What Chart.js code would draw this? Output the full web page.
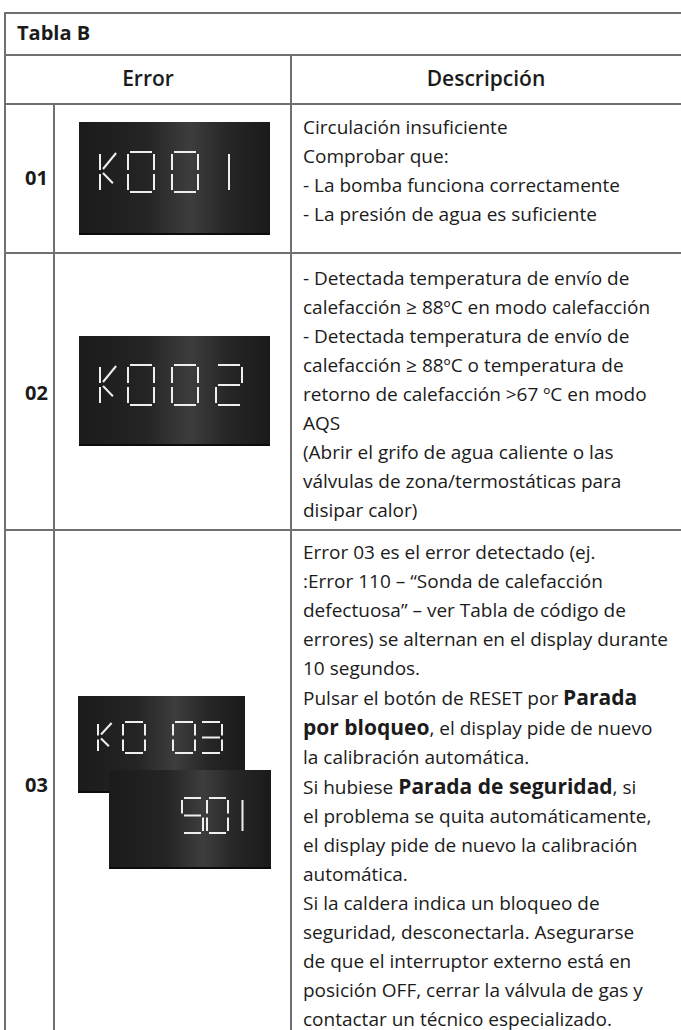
<!DOCTYPE html>
<html>
<head>
<meta charset="utf-8">
<script src="https://cdn.jsdelivr.net/npm/chart.js@4"></script>
<style>
  html, body { margin: 0; padding: 0; background: #fff; }
  body { width: 681px; height: 1030px; position: relative; overflow: hidden;
         font-family: 'Open Sans', 'Noto Sans', sans-serif; color: #1b1b1b; }
  .hl { position: absolute; height: 2px; background: #707070; }
  .vl { position: absolute; width: 2px; background: #707070; }
  .t { position: absolute; white-space: nowrap; }
  .desc { position: absolute; left: 303px; font-size: 19px; line-height: 29px; white-space: nowrap; }
  .desc b { font-weight: 700; font-size: 21px; }
  .desc .m { font-weight: 500; }
  canvas { position: absolute; }
</style>
</head>
<body>
<!-- rejilla de la tabla -->
<div class="hl" style="left:5px; top:12px; width:676px"></div>
<div class="hl" style="left:5px; top:54px; width:676px"></div>
<div class="hl" style="left:5px; top:103px; width:676px"></div>
<div class="hl" style="left:5px; top:252px; width:676px"></div>
<div class="hl" style="left:5px; top:529px; width:676px"></div>
<div class="vl" style="left:4px; top:12px; height:1018px"></div>
<div class="vl" style="left:290px; top:54px; height:976px"></div>
<div class="vl" style="left:53px; top:103px; height:927px"></div>

<div class="t" style="left:17px; top:19px; font-size:20px; font-weight:700;">Tabla B</div>
<div class="t" style="left:5px; width:286px; text-align:center; top:64px; font-size:21px; font-weight:600;">Error</div>
<div class="t" style="left:291px; width:390px; text-align:center; top:64px; font-size:21px; font-weight:600;">Descripción</div>

<div id="nums"></div>
<div id="descs"></div>

<canvas id="d1" width="191" height="113" style="left:79px; top:122px"></canvas>
<canvas id="d2" width="191" height="110" style="left:79px; top:336px"></canvas>
<canvas id="d3" width="167" height="97" style="left:78px; top:696px"></canvas>
<canvas id="d4" width="162" height="99" style="left:109px; top:770px"></canvas>

<script>
// Datos de la tabla
const errorNums = ['01', '02', '03'];
const displayCodes = ['K0 01', 'K0 02', 'K0 03'];
const resetCode = 'S01';

const desc01 = [
  'Circulación insuficiente',
  'Comprobar que:',
  '- La bomba funciona correctamente',
  '- La presión de agua es suficiente'
];
const desc02 = [
  '- Detectada temperatura de envío de',
  'calefacción ≥ 88ºC en modo calefacción',
  '- Detectada temperatura de envío de',
  'calefacción ≥ 88ºC o temperatura de',
  'retorno de calefacción >67 ºC en modo',
  'AQS',
  '(Abrir el grifo de agua caliente o las',
  'válvulas de zona/termostáticas para',
  'disipar calor)'
];
// *texto* = negrita, _texto_ = semi negrita
const desc03 = [
  '_Error 03_ es el error detectado (ej.',
  ':Error 110 – “Sonda de calefacción',
  'defectuosa” – ver Tabla de código de',
  'errores) se alternan en el display durante',
  '10 segundos.',
  'Pulsar el botón de RESET por *Parada*',
  '*por bloqueo*, el display pide de nuevo',
  'la calibración automática.',
  'Si hubiese *Parada de seguridad*, si',
  'el problema se quita automáticamente,',
  'el display pide de nuevo la calibración',
  'automática.',
  '_Si la caldera indica un bloqueo de_',
  '_seguridad, desconectarla. Asegurarse_',
  '_de que el interruptor externo está en_',
  '_posición OFF, cerrar la válvula de gas y_',
  '_contactar un técnico especializado._'
];

const numTops = [164, 379, 771];
const descTops = [113, 264, 538];

function fmt(s) {
  return s.replace(/&/g, '&amp;').replace(/</g, '&lt;').replace(/>/g, '&gt;')
    .replace(/\*([^*]+)\*/g, '<b>$1</b>')
    .replace(/_([^_]+)_/g, '<span class="m">$1</span>');
}

const numsEl = document.getElementById('nums');
errorNums.forEach((n, i) => {
  const d = document.createElement('div');
  d.className = 't';
  d.style.cssText = 'left:25px; top:' + numTops[i] + 'px; font-size:20px; font-weight:700;';
  d.textContent = n;
  numsEl.appendChild(d);
});
const descEl = document.getElementById('descs');
[desc01, desc02, desc03].forEach((lines, i) => {
  const d = document.createElement('div');
  d.className = 'desc';
  d.style.top = descTops[i] + 'px';
  d.innerHTML = lines.map(fmt).join('<br>');
  descEl.appendChild(d);
});

// segmentos de un display de 7 segmentos
const glyphs = {
  '0': 'abcdef', '1': 'm', '2': 'abged', '3': 'abgcd', 'S': 'afgcd', 'K': 'fekl'
};

function segsFor(ch, x, y, w, h) {
  const g = 2, m = y + h / 2;
  const all = {
    a: [[x + g, y], [x + w - g, y]],
    b: [[x + w, y + g], [x + w, m - g]],
    c: [[x + w, m + g], [x + w, y + h - g]],
    d: [[x + g, y + h], [x + w - g, y + h]],
    e: [[x, m + g], [x, y + h - g]],
    f: [[x, y + g], [x, m - g]],
    g: [[x + g, m], [x + w - g, m]],
    m: [[x + w / 2, y + g], [x + w / 2, y + h - g]],
    k: [[x + 3, m - 3], [x + w, y + 1]],
    l: [[x + 3, m + 1], [x + w * 0.8, y + h * 0.78]]
  };
  return (glyphs[ch] || '').split('').map(k => all[k]);
}

const bgPlugin = {
  id: 'lcdBg',
  beforeDraw(chart) {
    const { ctx, width, height } = chart;
    const gr = ctx.createLinearGradient(0, 0, width, 0);
    gr.addColorStop(0, '#1b1b1b');
    gr.addColorStop(0.35, '#242424');
    gr.addColorStop(0.58, '#3d3d3d');
    gr.addColorStop(0.78, '#262626');
    gr.addColorStop(1, '#1a1a1a');
    ctx.save();
    ctx.fillStyle = gr;
    ctx.fillRect(0, 0, width, height);
    ctx.fillStyle = '#0c0c0c';
    ctx.fillRect(0, height - 2, width, 2);
    ctx.restore();
  }
};

function display(id, code, lay) {
  const cv = document.getElementById(id);
  const W = cv.width, H = cv.height;
  const segs = [];
  let x = lay.x;
  for (const ch of code) {
    if (ch === ' ') { x += lay.space; continue; }
    const w = ch === 'K' ? lay.w * 0.62 : lay.w;
    segsFor(ch, x, lay.y, w, lay.h).forEach(s => segs.push(s));
    x += ch === 'K' ? lay.kAdv : lay.adv;
  }
  new Chart(cv, {
    type: 'scatter',
    data: {
      datasets: segs.map(s => ({
        data: s.map(p => ({ x: p[0], y: p[1] })),
        showLine: true,
        borderColor: '#eeeeee',
        borderWidth: 2,
        pointRadius: 0,
        borderCapStyle: 'butt'
      }))
    },
    options: {
      responsive: false,
      animation: false,
      devicePixelRatio: 1,
      events: [],
      layout: { padding: 0 },
      plugins: { legend: { display: false }, tooltip: { enabled: false } },
      scales: {
        x: { type: 'linear', min: 0, max: W, display: false },
        y: { type: 'linear', min: 0, max: H, reverse: true, display: false }
      }
    },
    plugins: [bgPlugin]
  });
}

display('d1', displayCodes[0], { x: 21, y: 30, w: 26, h: 40, adv: 44, kAdv: 28, space: 0 });
display('d2', displayCodes[1], { x: 21, y: 29, w: 26, h: 40, adv: 44, kAdv: 28, space: 0 });
display('d3', displayCodes[2], { x: 20, y: 26, w: 22, h: 31, adv: 27, kAdv: 25, space: 23 });
display('d4', resetCode, { x: 73, y: 28, w: 21, h: 35, adv: 25, kAdv: 25, space: 0 });
</script>
</body>
</html>
